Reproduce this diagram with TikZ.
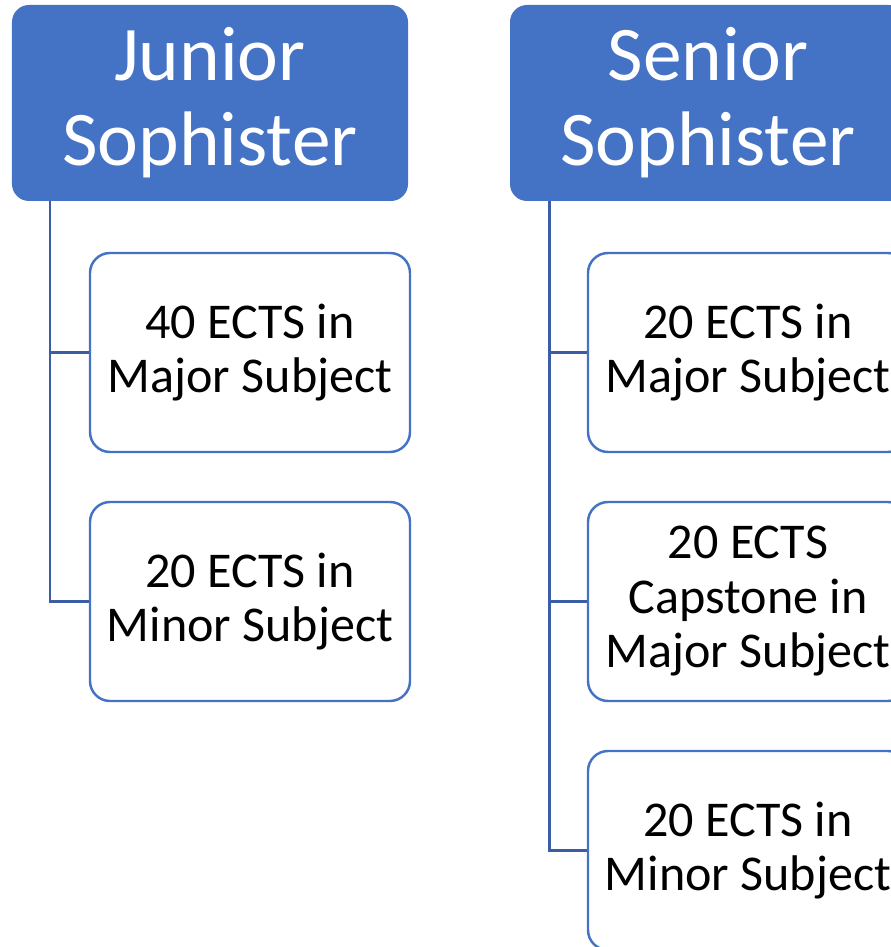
\documentclass[tikz,border=0pt]{standalone}
\usepackage{fontspec}
\setmainfont{Carlito}
\usepackage{xcolor}
\usetikzlibrary{positioning}

\definecolor{hdblue}{HTML}{4472C4}
\definecolor{lnblue}{HTML}{3A5DA5}

\begin{document}
\begin{tikzpicture}[font=\fontsize{28.5}{31}\selectfont]
		\tikzstyle{header} = [fill=hdblue, rounded corners=0.34cm, minimum width=7.92cm, minimum height=3.92cm, align=center, text=white, font=\fontsize{44}{48.5}\selectfont]
		\tikzstyle{course} = [draw=hdblue, line width=1.4pt, fill=white, rounded corners=0.4cm, minimum width=6.4cm, minimum height=3.98cm, align=center]
		\tikzstyle{link} = [draw=lnblue, line width=1.7pt]
		
		\useasboundingbox (0, 0) rectangle (17.82, -18.94);
		\clip (0, 0) rectangle (17.82, -18.94);
		
		\node[header]	at (4.2, -2.06)		(junior)	{Junior\\Sophister};
		\node[header]	at (14.16, -2.06)	(senior)	{Senior\\Sophister};
		
		\node[course]	at (5.0, -7.05)		(jmajor)	{40 ECTS in\\Major Subject};
		\node[course]	at (5.0, -12.03)	(jminor)	{20 ECTS in\\Minor Subject};
		
		\node[course]	at (14.96, -7.05)	(smajor)	{20 ECTS in\\Major Subject};
		\node[course]	at (14.96, -12.03)	(scap)		{20 ECTS\\Capstone in\\Major Subject};
		\node[course]	at (14.96, -17.01)	(sminor)	{20 ECTS in\\Minor Subject};
		
		\coordinate (jroot) at (1.0, -4.02);
		\coordinate (sroot) at (10.98, -4.02);
		
		\draw [link] (jroot) |- (jmajor.west);
		\draw [link] (jroot) |- (jminor.west);
		
		\draw [link] (sroot) |- (smajor.west);
		\draw [link] (sroot) |- (scap.west);
		\draw [link] (sroot) |- (sminor.west);
	\end{tikzpicture}
\end{document}
